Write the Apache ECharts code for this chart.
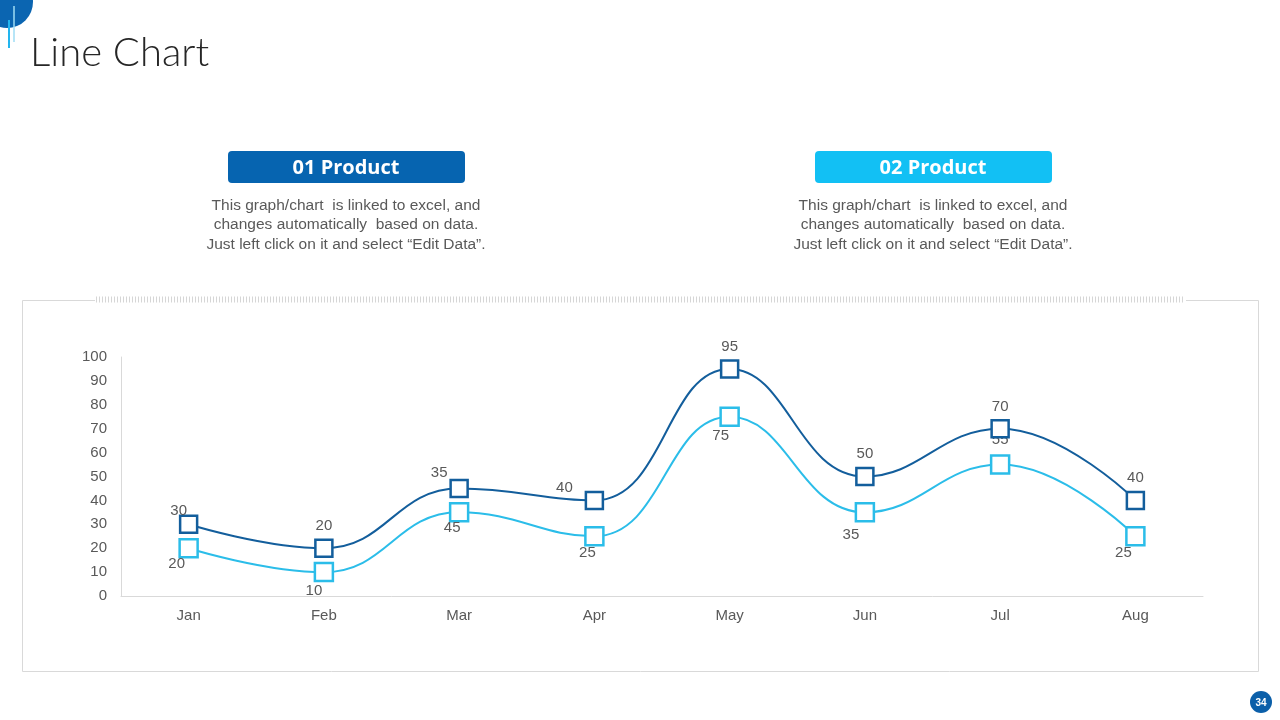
<!DOCTYPE html>
<html>
<head>
<meta charset="utf-8">
<title>Line Chart</title>
<script src="https://cdn.jsdelivr.net/npm/echarts@6/dist/echarts.min.js"></script>
<style>
  html, body { margin: 0; padding: 0; background: #fff; }
  #main { width: 1280px; height: 720px; }
</style>
</head>
<body>
<div id="main"></div>
<script>
const months = ['Jan', 'Feb', 'Mar', 'Apr', 'May', 'Jun', 'Jul', 'Aug']
const product1 = [30, 20, 45, 40, 95, 50, 70, 40]
const product2 = [20, 10, 35, 25, 75, 35, 55, 25]
// the labels shown in the slide (Mar is swapped in the original)
const product1Labels = ['30', '20', '35', '40', '95', '50', '70', '40']
const product2Labels = ['20', '10', '45', '25', '75', '35', '55', '25']
const yTicks = [0, 100, 10]

// label nudges, kept apart from the values
const shift1 = [[-10, 9], [0, 0], [-20, 7], [-30, 10], [0, 0], [0, 0], [0, 0], [0, 0]]
const shift2 = [[-12, -7], [-10, -4], [-7, -7], [-7, -6], [-9, -4], [-14, 0], [0, -47], [-12, -6]]

const dark = '#135e9c'
const light = '#2bbde9'
const textGray = '#595959'
const desc = 'This graph/chart  is linked to excel, and\nchanges automatically  based on data.\nJust left click on it and select \u201cEdit Data\u201d.'

const makeData = (values, labels, shifts, pos) => values.map((v, i) => ({
  value: v,
  label: { formatter: labels[i], position: pos, offset: shifts[i] }
}))

const chart = echarts.init(document.getElementById('main'))
const option = {
  animation: false,
  backgroundColor: '#fff',
  grid: { left: 121, right: 77, top: 357, bottom: 124 },
  xAxis: {
    type: 'category',
    data: months,
    boundaryGap: true,
    axisLine: { lineStyle: { color: '#d9d9d9', width: 1 } },
    axisTick: { show: false },
    axisLabel: { color: textGray, fontSize: 15, fontFamily: 'Liberation Sans', margin: 12 }
  },
  yAxis: {
    type: 'value',
    min: yTicks[0],
    max: yTicks[1],
    interval: yTicks[2],
    axisLine: { show: true, lineStyle: { color: '#d9d9d9', width: 1 } },
    axisTick: { show: false },
    splitLine: { show: false },
    axisLabel: { color: textGray, fontSize: 15, fontFamily: 'Liberation Sans', margin: 14 }
  },
  series: [
    {
      name: '01 Product',
      type: 'line',
      smooth: 0.45,
      data: makeData(product1, product1Labels, shift1, 'top'),
      symbol: 'rect',
      symbolSize: 17,
      lineStyle: { color: dark, width: 2 },
      itemStyle: { color: '#fff', borderColor: dark, borderWidth: 2.5 },
      label: { show: true, color: textGray, fontSize: 15, fontFamily: 'Liberation Sans', distance: 5 },
      z: 3
    },
    {
      name: '02 Product',
      type: 'line',
      smooth: 0.45,
      data: makeData(product2, product2Labels, shift2, 'bottom'),
      symbol: 'rect',
      symbolSize: 18,
      lineStyle: { color: light, width: 2 },
      itemStyle: { color: '#fff', borderColor: light, borderWidth: 2.5 },
      label: { show: true, color: textGray, fontSize: 15, fontFamily: 'Liberation Sans', distance: 5 },
      z: 2
    }
  ],
  graphic: [
    // corner decoration
    { type: 'circle', shape: { cx: 7, cy: 2, r: 26 }, style: { fill: '#0b65b1' }, z: 1 },
    { type: 'line', shape: { x1: 9, y1: 20, x2: 9, y2: 48 }, style: { stroke: '#22b5ef', lineWidth: 2 }, z: 2 },
    { type: 'line', shape: { x1: 14, y1: 6, x2: 14, y2: 42 }, style: { stroke: '#9fdcf5', lineWidth: 1.5 }, z: 2 },
    {
      type: 'text', left: 30, top: 33,
      style: { text: 'Line Chart', fill: '#262626', font: '300 40px Lato, "DejaVu Sans", sans-serif' }
    },
    // product headers
    { type: 'rect', shape: { x: 228, y: 151, width: 237, height: 32, r: 4 }, style: { fill: '#0664b0' } },
    {
      type: 'text', x: 346, y: 168,
      style: { text: '01 Product', fill: '#fff', font: 'bold 20px "Open Sans", sans-serif', align: 'center', verticalAlign: 'middle' }
    },
    {
      type: 'text', x: 346, y: 225,
      style: { text: desc, fill: textGray, font: '15.5px "Liberation Sans", Arial, sans-serif', align: 'center', verticalAlign: 'middle', lineHeight: 19.5 }
    },
    { type: 'rect', shape: { x: 815, y: 151, width: 237, height: 32, r: 4 }, style: { fill: '#12c0f4' } },
    {
      type: 'text', x: 933, y: 168,
      style: { text: '02 Product', fill: '#fff', font: 'bold 20px "Open Sans", sans-serif', align: 'center', verticalAlign: 'middle' }
    },
    {
      type: 'text', x: 933, y: 225,
      style: { text: desc, fill: textGray, font: '15.5px "Liberation Sans", Arial, sans-serif', align: 'center', verticalAlign: 'middle', lineHeight: 19.5 }
    },
    // panel frame
    { type: 'rect', shape: { x: 22.5, y: 300.5, width: 1236, height: 371 }, style: { fill: 'none', stroke: '#d9d9d9', lineWidth: 1 }, z: 0 },
    { type: 'rect', shape: { x: 95, y: 296, width: 1091, height: 8 }, style: { fill: '#fff' }, z: 1 },
    {
      type: 'line', shape: { x1: 96, y1: 299.5, x2: 1185, y2: 299.5 },
      style: { stroke: '#d6d6d6', lineWidth: 6, lineDash: [1, 2] }, z: 2
    },
    // page number
    { type: 'circle', shape: { cx: 1261, cy: 702, r: 11 }, style: { fill: '#0b5fa9' } },
    {
      type: 'text', x: 1261, y: 703,
      style: { text: '34', fill: '#fff', font: 'bold 10px "Liberation Sans", sans-serif', align: 'center', verticalAlign: 'middle' }
    }
  ]
}
chart.setOption(option)
</script>
</body>
</html>
